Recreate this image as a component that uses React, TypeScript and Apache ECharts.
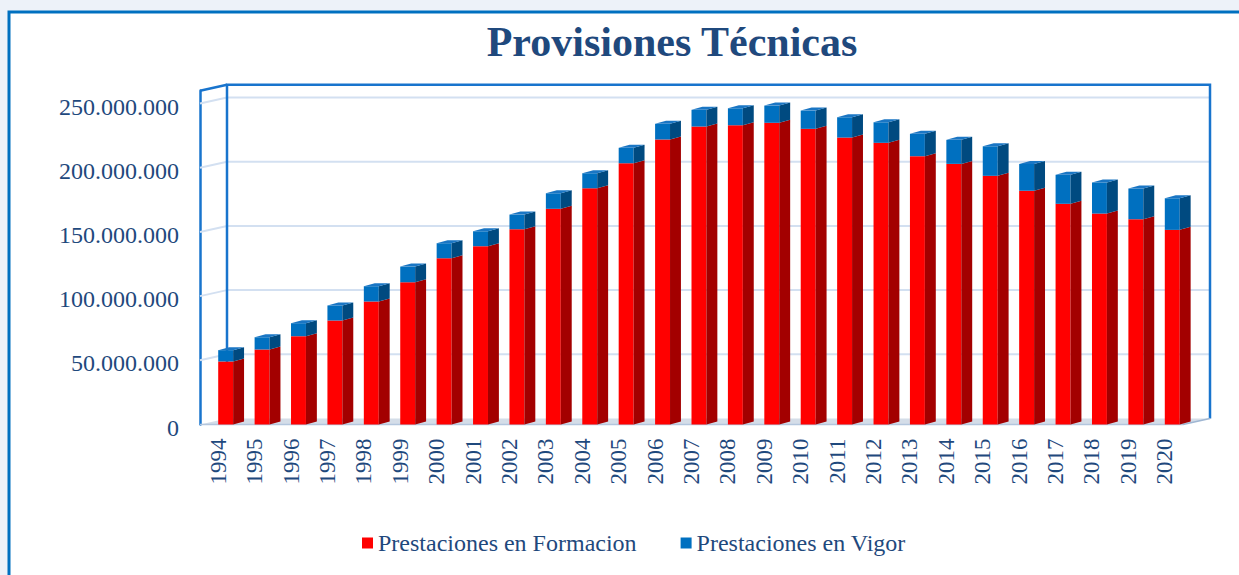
import React, { useEffect, useRef } from "react";
import * as echarts from "echarts";

const years = [
  "1994", "1995", "1996", "1997", "1998", "1999", "2000", "2001", "2002",
  "2003", "2004", "2005", "2006", "2007", "2008", "2009", "2010", "2011",
  "2012", "2013", "2014", "2015", "2016", "2017", "2018", "2019", "2020",
];

const formacion = [
  49100000, 58400000, 68800000, 81000000, 95800000, 110800000, 129500000,
  138900000, 152100000, 168000000, 184000000, 203500000, 222000000, 232100000,
  233100000, 235000000, 230300000, 223500000, 219400000, 209000000, 203000000,
  193700000, 182000000, 171900000, 164300000, 159900000, 151600000,
];

const vigor = [
  8800000, 9600000, 10100000, 11700000, 11900000, 12200000, 11700000,
  11600000, 11400000, 12100000, 11700000, 12000000, 12200000, 13000000,
  13200000, 13400000, 14200000, 15800000, 16000000, 17400000, 18700000,
  23000000, 21000000, 22600000, 24200000, 23900000, 24600000,
];

const yTicks = [0, 50000000, 100000000, 150000000, 200000000, 250000000];
const yMax = 260000000;

const seriesNames = ["Prestaciones en Formacion", "Prestaciones en Vigor"];

const TEXT = "#1F497D";
const FRAME = "#1874CD";
const GRIDLINE = "#D3E0F1";
const SERIF = "'Liberation Serif', 'Times New Roman', serif";
const DX = 27;
const DY = -6;

function fmt(v: number): string {
  return String(Math.round(v)).replace(/\B(?=(\d{3})+(?!\d))/g, ".");
}

export default function App() {
  const ref = useRef<HTMLDivElement>(null);

  useEffect(() => {
    if (!ref.current) return;
    const chart = echarts.init(ref.current, undefined, { renderer: "svg" });

    const frameItem = (params: any, api: any) => {
      const band = api.size([1, 0])[0];
      const c0 = api.coord([0, 0]);
      const cN = api.coord([years.length - 1, 0]);
      const L = c0[0] - band / 2;
      const R = cN[0] + band / 2;
      const y0 = c0[1];
      const yTop = api.coord([0, yMax])[1];
      const children: any[] = [];
      children.push({
        type: "polygon",
        shape: { points: [[L, y0], [R, y0], [R + DX, y0 + DY], [L + DX, y0 + DY]] },
        style: { fill: "#D4DDE8" },
      });
      children.push({
        type: "line",
        shape: { x1: L, y1: y0, x2: R, y2: y0 },
        style: { stroke: "#B3C6DD", lineWidth: 1.5 },
      });
      yTicks.forEach((t) => {
        if (t === 0) return;
        const y = api.coord([0, t])[1];
        children.push({
          type: "line",
          shape: { x1: L, y1: y, x2: L + DX, y2: y + DY },
          style: { stroke: GRIDLINE, lineWidth: 2 },
        });
        children.push({
          type: "line",
          shape: { x1: L + DX, y1: y + DY, x2: R + DX, y2: y + DY },
          style: { stroke: GRIDLINE, lineWidth: 2 },
        });
      });
      children.push({
        type: "polyline",
        shape: {
          points: [
            [L + DX, y0 + DY],
            [L + DX, yTop + DY],
            [R + DX, yTop + DY],
            [R + DX, y0 + DY],
          ],
        },
        style: { stroke: FRAME, lineWidth: 2.5, fill: "none" },
      });
      children.push({
        type: "line",
        shape: { x1: L, y1: yTop, x2: L + DX, y2: yTop + DY },
        style: { stroke: FRAME, lineWidth: 2.5 },
      });
      children.push({
        type: "line",
        shape: { x1: R, y1: y0, x2: R + DX, y2: y0 + DY },
        style: { stroke: "#9FB6D2", lineWidth: 1.5 },
      });
      return { type: "group", children };
    };

    const redItem = (params: any, api: any) => {
      const i = api.value(0);
      const v = api.value(1);
      const band = api.size([1, 0])[0];
      const base = api.coord([i, 0]);
      const top = api.coord([i, v]);
      const fw = band * 0.41;
      const dx = band * 0.3;
      const dy = -3;
      const x = base[0];
      return {
        type: "group",
        children: [
          {
            type: "rect",
            shape: { x, y: top[1], width: fw, height: base[1] - top[1] },
            style: { fill: "#FF0000" },
          },
          {
            type: "polygon",
            shape: {
              points: [
                [x + fw, base[1]],
                [x + fw, top[1]],
                [x + fw + dx, top[1] + dy],
                [x + fw + dx, base[1] + dy],
              ],
            },
            style: { fill: "#A30000" },
          },
        ],
      };
    };

    const blueItem = (params: any, api: any) => {
      const i = api.value(0);
      const r = api.value(1);
      const b = api.value(2);
      const band = api.size([1, 0])[0];
      const lo = api.coord([i, r]);
      const hi = api.coord([i, r + b]);
      const fw = band * 0.41;
      const dx = band * 0.3;
      const dy = -3;
      const x = lo[0];
      return {
        type: "group",
        children: [
          {
            type: "rect",
            shape: { x, y: hi[1], width: fw, height: lo[1] - hi[1] },
            style: { fill: "#0070C0" },
          },
          {
            type: "polygon",
            shape: {
              points: [
                [x + fw, lo[1]],
                [x + fw, hi[1]],
                [x + fw + dx, hi[1] + dy],
                [x + fw + dx, lo[1] + dy],
              ],
            },
            style: { fill: "#004A80" },
          },
          {
            type: "polygon",
            shape: {
              points: [
                [x, hi[1]],
                [x + fw, hi[1]],
                [x + fw + dx, hi[1] + dy],
                [x + dx, hi[1] + dy],
              ],
            },
            style: { fill: "#1A76C4" },
          },
        ],
      };
    };

    chart.setOption({
      animation: false,
      backgroundColor: "#EDF2F9",
      graphic: [
        {
          type: "rect",
          z: -10,
          shape: { x: 9, y: 12, width: 1260, height: 600 },
          style: { fill: "#FFFFFF", stroke: "#0070C0", lineWidth: 3 },
        },
        {
          type: "text",
          x: 672,
          y: 42,
          style: {
            text: "Provisiones Técnicas",
            font: "bold 42px 'Liberation Serif', 'Times New Roman', serif",
            fill: TEXT,
            textAlign: "center",
            textVerticalAlign: "middle",
          },
        },
      ],
      legend: {
        left: 362,
        top: 531,
        padding: 0,
        itemWidth: 11,
        itemHeight: 11,
        itemGap: 44,
        icon: "rect",
        textStyle: { fontFamily: SERIF, fontSize: 24, color: TEXT },
        data: [
          { name: seriesNames[0], itemStyle: { color: "#FF0000" } },
          { name: seriesNames[1], itemStyle: { color: "#0070C0" } },
        ],
      },
      grid: { left: 200, right: 56, top: 90.7, bottom: 150.5, containLabel: false },
      xAxis: {
        type: "category",
        data: years,
        axisLine: { show: false },
        axisTick: { show: false },
        axisLabel: {
          rotate: 90,
          margin: 14,
          interval: 0,
          fontFamily: SERIF,
          fontSize: 23,
          color: TEXT,
        },
        splitLine: { show: false },
      },
      yAxis: {
        type: "value",
        min: 0,
        max: yMax,
        interval: 50000000,
        axisLine: { show: true, lineStyle: { color: FRAME, width: 2.5 } },
        axisTick: { show: false },
        splitLine: { show: false },
        axisLabel: {
          margin: 21,
          showMaxLabel: false,
          fontFamily: SERIF,
          fontSize: 24,
          color: TEXT,
          verticalAlign: "top",
          lineHeight: 6,
          formatter: (v: number) => (yTicks.indexOf(v) >= 0 ? fmt(v) : ""),
        },
      },
      series: [
        {
          type: "custom",
          name: "frame",
          z: 1,
          silent: true,
          clip: false,
          renderItem: frameItem,
          data: [[0, 0]],
          encode: { x: 0, y: 1 },
        },
        {
          type: "custom",
          name: seriesNames[0],
          z: 3,
          clip: false,
          itemStyle: { color: "#FF0000" },
          renderItem: redItem,
          data: years.map((_, i) => [i, formacion[i]]),
          encode: { x: 0, y: 1 },
        },
        {
          type: "custom",
          name: seriesNames[1],
          z: 3,
          clip: false,
          itemStyle: { color: "#0070C0" },
          renderItem: blueItem,
          data: years.map((_, i) => [i, formacion[i], vigor[i]]),
          encode: { x: 0, y: 1 },
        },
      ],
    });

    return () => chart.dispose();
  }, []);

  return (
    <div
      ref={ref}
      style={{ position: "absolute", left: 0, top: 0, width: 1239, height: 575 }}
    />
  );
}
